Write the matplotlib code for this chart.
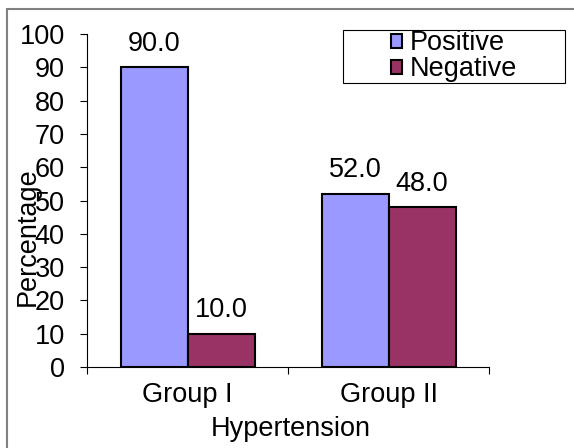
import numpy as np
import matplotlib
matplotlib.use("Agg")
from matplotlib import pyplot as plt
from matplotlib.patches import Rectangle

groups = ["Group I", "Group II"]
positive = [90.0, 52.0]
negative = [10.0, 48.0]
yticks = [0, 10, 20, 30, 40, 50, 60, 70, 80, 90, 100]

plt.rcParams['font.family'] = ['Liberation Sans', 'DejaVu Sans']
fs = 19.5
W, H = 574, 448

fig = plt.figure(figsize=(W/100, H/100), dpi=100)
ax = fig.add_axes([87/W, 81/H, 402/W, 333/H])

x = np.arange(len(groups))
w = 1/3
ax.bar(x - w/2, positive, w, color="#9999FF", edgecolor="black", linewidth=1.5, label="Positive")
ax.bar(x + w/2, negative, w, color="#993366", edgecolor="black", linewidth=1.5, label="Negative")

for xi, p, n in zip(x, positive, negative):
    ax.annotate("%.1f" % p, (xi - w/2, p), xytext=(0, 17), textcoords="offset points",
                ha="center", va="center", fontsize=fs)
    ax.annotate("%.1f" % n, (xi + w/2, n), xytext=(0, 17), textcoords="offset points",
                ha="center", va="center", fontsize=fs)

ax.set_xlim(-0.5, 1.5)
ax.set_ylim(0, 100)
ax.set_yticks(yticks)
ax.tick_params(axis="y", labelsize=fs, length=5, direction="out", pad=11)
ax.set_xticks([-0.5, 0.5, 1.5])
ax.set_xticklabels([])
ax.tick_params(axis="x", which="major", length=5, direction="out")
ax.set_xticks(x, minor=True)
ax.set_xticklabels(groups, minor=True, fontsize=fs)
ax.tick_params(axis="x", which="minor", length=0, pad=11)
for s in ["top", "right"]:
    ax.spines[s].set_visible(False)

fig.text(291/W, 1 - 429/H, "Hypertension", ha="center", va="center", fontsize=fs)
fig.text(28/W, 1 - 237/H, "Percentage", ha="center", va="center", rotation=90, fontsize=fs)

leg = ax.legend(loc="center", bbox_to_anchor=(454/W, 1 - 56.5/H), bbox_transform=fig.transFigure,
                fontsize=fs, frameon=False, handlelength=0.4, handleheight=0.4,
                handletextpad=0.3, borderpad=0, labelspacing=0.0)
for hdl in leg.legend_handles:
    hdl.set_linewidth(1.5)

fig.patches.append(Rectangle((343/W, 1 - 83/H), 222/W, 53/H, transform=fig.transFigure,
                             fill=False, edgecolor="black", linewidth=0.8))
fig.patches.append(Rectangle((7/W, -0.1), 1.2, 1 - 9/H + 0.1, transform=fig.transFigure,
                             fill=False, edgecolor="#808080", linewidth=1.5))

plt.savefig("out.png", dpi=100)
